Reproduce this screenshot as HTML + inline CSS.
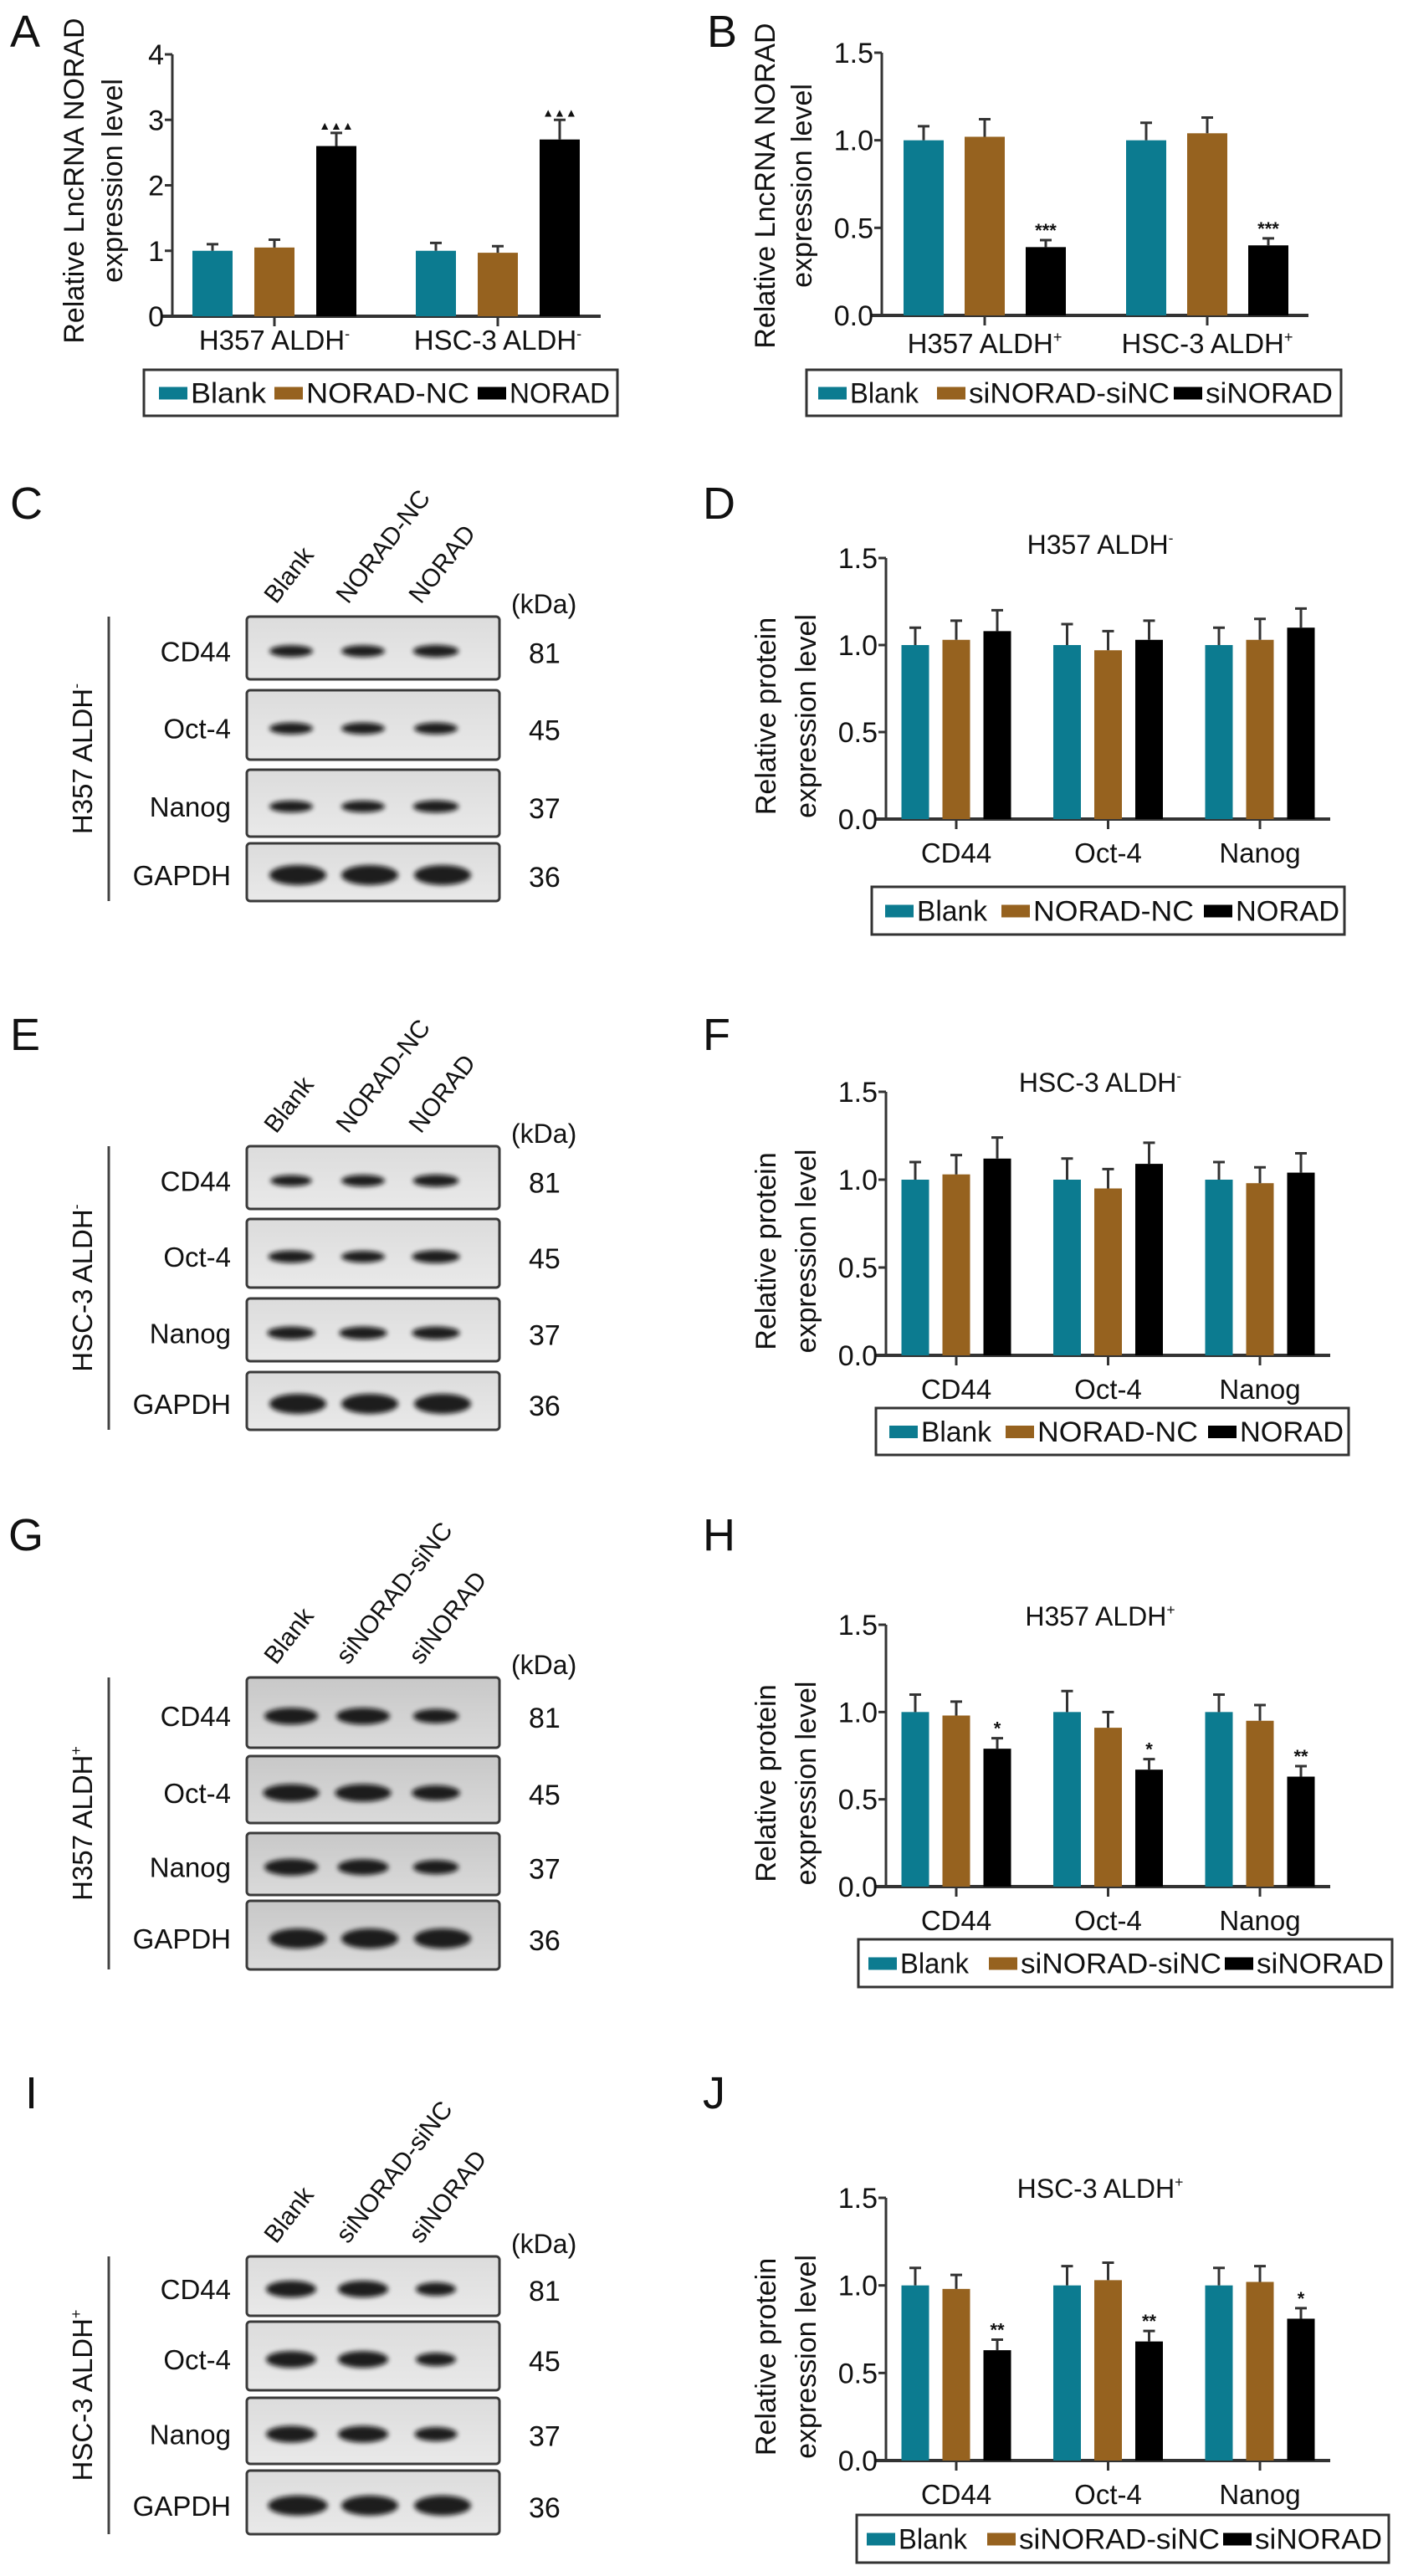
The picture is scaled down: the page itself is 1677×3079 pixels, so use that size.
<!DOCTYPE html>
<html><head><meta charset="utf-8"><title>NORAD figure</title>
<style>
html,body{margin:0;padding:0;background:#fff;}
svg{display:block;font-family:"Liberation Sans",Arial,sans-serif;}
</style></head>
<body>
<svg id="fig" width="1677" height="3079" viewBox="0 0 1677 3079" xmlns="http://www.w3.org/2000/svg">
<defs>
<filter id="blur" x="-30%" y="-80%" width="160%" height="260%"><feGaussianBlur stdDeviation="3"/></filter>
<linearGradient id="blotbg" x1="0" y1="0" x2="0" y2="1"><stop offset="0" stop-color="#dcdcdc"/><stop offset="1" stop-color="#e9e9e9"/></linearGradient>
<linearGradient id="blotbg2" x1="0" y1="0" x2="0" y2="1"><stop offset="0" stop-color="#c8c8c8"/><stop offset="1" stop-color="#dadada"/></linearGradient>
</defs>
</svg>
<script>
// ---------- data ----------
const catsA = ['H357 ALDH', 'HSC-3 ALDH'];
const ticksA = [0, 1, 2, 3, 4];
const aBlank = [1.0, 1.0];
const aNC = [1.05, 0.97];
const aNORAD = [2.6, 2.7];
const aBlankErr = [0.1, 0.12];
const aNCErr = [0.12, 0.1];
const aNORADErr = [0.2, 0.3];
const aSig = ['▲▲▲', '▲▲▲'];

const catsB = ['H357 ALDH', 'HSC-3 ALDH'];
const ticksB = [0, 0.5, 1.0, 1.5];
const bBlank = [1.0, 1.0];
const bNC = [1.02, 1.04];
const bSi = [0.39, 0.40];
const bBlankErr = [0.08, 0.1];
const bNCErr = [0.1, 0.09];
const bSiErr = [0.04, 0.04];
const bSig = ['***', '***'];

const protCats = ['CD44', 'Oct-4', 'Nanog'];
const ticksP = [0, 0.5, 1.0, 1.5];

const dBlank = [1.0, 1.0, 1.0];
const dNC = [1.03, 0.97, 1.03];
const dTr = [1.08, 1.03, 1.10];
const dBlankErr = [0.1, 0.12, 0.1];
const dNCErr = [0.11, 0.11, 0.12];
const dTrErr = [0.12, 0.11, 0.11];

const fBlank = [1.0, 1.0, 1.0];
const fNC = [1.03, 0.95, 0.98];
const fTr = [1.12, 1.09, 1.04];
const fBlankErr = [0.1, 0.12, 0.1];
const fNCErr = [0.11, 0.11, 0.09];
const fTrErr = [0.12, 0.12, 0.11];

const hBlank = [1.0, 1.0, 1.0];
const hNC = [0.98, 0.91, 0.95];
const hTr = [0.79, 0.67, 0.63];
const hBlankErr = [0.1, 0.12, 0.1];
const hNCErr = [0.08, 0.09, 0.09];
const hTrErr = [0.06, 0.06, 0.06];
const hSig = ['*', '*', '**'];

const jBlank = [1.0, 1.0, 1.0];
const jNC = [0.98, 1.03, 1.02];
const jTr = [0.63, 0.68, 0.81];
const jBlankErr = [0.1, 0.11, 0.1];
const jNCErr = [0.08, 0.1, 0.09];
const jTrErr = [0.06, 0.06, 0.06];
const jSig = ['**', '**', '*'];

const legendOver = ['Blank', 'NORAD-NC', 'NORAD'];
const legendKnock = ['Blank', 'siNORAD-siNC', 'siNORAD'];
const lanesOver = ['Blank', 'NORAD-NC', 'NORAD'];
const lanesKnock = ['Blank', 'siNORAD-siNC', 'siNORAD'];
const blotRows = ['CD44', 'Oct-4', 'Nanog', 'GAPDH'];
const blotKDa = ['81', '45', '37', '36'];

// ---------- helpers ----------
const NS = 'http://www.w3.org/2000/svg';
const svg = document.getElementById('fig');
const COLORS = ['#0c7b90', '#96621f', '#000000'];
function mk(tag, attrs, parent) {
  const e = document.createElementNS(NS, tag);
  for (const k in attrs) e.setAttribute(k, attrs[k]);
  (parent || svg).appendChild(e);
  return e;
}
function txt(x, y, s, size, anchor, parent) {
  const t = mk('text', {x: x, y: y, 'font-size': size, 'text-anchor': anchor || 'start', fill: '#111'}, parent);
  t.textContent = s;
  return t;
}
function supLabel(x, y, base, sign, size, anchor, parent) {
  const t = mk('text', {x: x, y: y, 'font-size': size, 'text-anchor': anchor || 'middle', fill: '#111'}, parent);
  const a = mk('tspan', {}, t); a.textContent = base;
  const b = mk('tspan', {dy: -size * 0.4, 'font-size': size * 0.55}, t); b.textContent = sign;
  return t;
}

function panelLabel(x, y, s) {
  const t = txt(x, y, s, 54, 'start');
  
  
}

function drawChart(g, name) {
  const grp = mk('g', {});
  
  
  const yScale = v => g.y0 - (v / g.yMax) * (g.y0 - g.yTop);
  const xCenter = i => g.c0 + i * g.step;
  // axes
  const ya = mk('line', {x1: g.ax, y1: g.yTop, x2: g.ax, y2: g.y0, stroke: '#333', 'stroke-width': 3}, grp);
  
  
  const xa = mk('line', {x1: g.ax - 12, y1: g.y0, x2: g.xEnd, y2: g.y0, stroke: '#333', 'stroke-width': 4}, grp);
  
  
  g.ticks.forEach(v => {
    const y = yScale(v);
    mk('line', {x1: g.ax - 9, y1: y, x2: g.ax, y2: y, stroke: '#333', 'stroke-width': 3}, grp);
    const t = txt(g.ax - 10, y + 12, g.fmt(v), 34, 'end', grp);
    
    
  });
  // y title
  const tt = mk('text', {transform: 'translate(' + g.tx1 + ',' + g.tMid + ') rotate(-90)', 'font-size': 34, 'text-anchor': 'middle', fill: '#111'}, grp);
  tt.textContent = g.title1;
  
  
  const tt2 = mk('text', {transform: 'translate(' + g.tx2 + ',' + g.tMid + ') rotate(-90)', 'font-size': 34, 'text-anchor': 'middle', fill: '#111'}, grp);
  tt2.textContent = g.title2;
  
  
  // categories
  g.cats.forEach((c, i) => {
    const cx = xCenter(i);
    mk('line', {x1: cx, y1: g.y0, x2: cx, y2: g.y0 + 12, stroke: '#333', 'stroke-width': 3}, grp);
    let t;
    if (g.sign) t = supLabel(cx, g.catY, c, g.sign, 33, 'middle', grp);
    else t = txt(cx, g.catY, c, 33, 'middle', grp);
    
    
  });
  // bars
  g.series.forEach((vals, s) => {
    vals.forEach((v, i) => {
      const cx = xCenter(i) + (s - 1) * g.barStep;
      const top = yScale(v);
      const errTop = yScale(v + g.errs[s][i]);
      const r = mk('rect', {x: cx - g.barW / 2, y: top, width: g.barW, height: g.y0 - top, fill: COLORS[s]}, grp);
      
      
      const e = mk('path', {d: 'M' + cx + ' ' + top + 'V' + errTop + 'M' + (cx - 7) + ' ' + errTop + 'H' + (cx + 7), stroke: '#333', 'stroke-width': 3, fill: 'none'}, grp);
      
      
      if (s === 2 && g.sig) {
        const st = txt(cx, errTop - 4, g.sig[i], g.sigSize, 'middle', grp);
        st.setAttribute('font-weight', 'bold');
        
        
      }
    });
  });
  // chart title
  if (g.head) {
    const ht = supLabel(g.headX, g.headY, g.head, g.headSign, 32, 'middle', grp);
    
    
  }
  // legend
  const L = g.leg;
  const lb = mk('rect', {x: L.x1, y: L.y1, width: L.x2 - L.x1, height: L.y2 - L.y1, fill: '#fff', stroke: '#333', 'stroke-width': 3}, grp);
  
  
  const my = (L.y1 + L.y2) / 2;
  g.legend.forEach((s, k) => {
    const sw = mk('rect', {x: L.sw[k], y: my - 7, width: 34, height: 15, fill: COLORS[k]}, grp);
    
    
    const lt = txt(L.sw[k] + 38, my + 12, s, 34, 'start', grp);
    lt.setAttribute('textLength', L.tl[k]);
    lt.setAttribute('lengthAdjust', 'spacingAndGlyphs');
    
    
  });
}

function drawBlot(b, name) {
  const grp = mk('g', {});
  
  
  const top = b.rows[0][0], bot = b.rows[3][1];
  const vl = mk('line', {x1: 130, y1: top, x2: 130, y2: bot, stroke: '#444', 'stroke-width': 3}, grp);
  
  
  const sl = mk('text', {transform: 'translate(110,' + ((top + bot) / 2) + ') rotate(-90)', 'font-size': 33, 'text-anchor': 'middle', fill: '#111'}, grp);
  const s1 = mk('tspan', {}, sl); s1.textContent = b.side;
  const s2 = mk('tspan', {dy: -13, 'font-size': 18}, sl); s2.textContent = b.sign;
  
  
  const kd = txt(611, top - 4, '(kDa)', 32, 'start', grp);
  
  
  const laneX = [348, 434, 521];
  b.lanes.forEach((l, i) => {
    const lx = laneX[i] - 18, ly = top - 14;
    const t = mk('text', {transform: 'translate(' + lx + ',' + ly + ') rotate(-52)', 'font-size': 30, fill: '#111'}, grp);
    t.textContent = l;
    
    
  });
  b.rows.forEach((r, k) => {
    const bx = mk('rect', {x: 295, y: r[0], width: 302, height: r[1] - r[0], rx: 4, fill: b.bg, stroke: '#3a3a3a', 'stroke-width': 3}, grp);
    
    
    const cy = r[0] + (r[1] - r[0]) * 0.55;
    const rl = txt(276, cy + 12, blotRows[k], 33, 'end', grp);
    
    
    const kl = txt(632, cy + 14, blotKDa[k], 34, 'start', grp);
    
    
    const isG = k === 3;
    laneX.forEach((lx, i) => {
      const w = (isG ? 34 : b.bw) * (b.int[k][i]);
      const h = isG ? 12 : b.bh * b.int[k][i];
      const e = mk('ellipse', {cx: lx + (isG ? 8 : 0), cy: cy, rx: w, ry: h, fill: '#0a0a0a', filter: 'url(#blur)', opacity: 0.92}, grp);
      
      
    });
  });
}

// ---------- panel labels ----------
panelLabel(12, 56, 'A');
panelLabel(845, 56, 'B');
panelLabel(12, 620, 'C');
panelLabel(840, 620, 'D');
panelLabel(12, 1255, 'E');
panelLabel(840, 1255, 'F');
panelLabel(10, 1853, 'G');
panelLabel(840, 1853, 'H');
panelLabel(30, 2520, 'I');
panelLabel(840, 2520, 'J');

// ---------- charts ----------
const fmt1 = v => v.toFixed(1);
drawChart({ax: 206, xEnd: 718, y0: 378, yTop: 65, yMax: 4, ticks: ticksA, fmt: v => String(v),
  c0: 328, step: 267, barStep: 74, barW: 48, cats: catsA, sign: '-', catY: 418,
  series: [aBlank, aNC, aNORAD], errs: [aBlankErr, aNCErr, aNORADErr], sig: aSig, sigSize: 14,
  tx1: 100, tx2: 146, tMid: 216, title1: 'Relative LncRNA NORAD', title2: 'expression level',
  legend: legendOver, leg: {x1: 172, y1: 442, x2: 738, y2: 497, sw: [190, 328, 571], tl: [90, 195, 120]}}, 'panel-a');

drawChart({ax: 1054, xEnd: 1564, y0: 377, yTop: 63, yMax: 1.5, ticks: ticksB, fmt: fmt1,
  c0: 1177, step: 266, barStep: 73, barW: 48, cats: catsB, sign: '+', catY: 422,
  series: [bBlank, bNC, bSi], errs: [bBlankErr, bNCErr, bSiErr], sig: bSig, sigSize: 22,
  tx1: 926, tx2: 970, tMid: 222, title1: 'Relative LncRNA NORAD', title2: 'expression level',
  legend: legendKnock, leg: {x1: 964, y1: 442, x2: 1603, y2: 497, sw: [978, 1120, 1403], tl: [82, 240, 152]}}, 'panel-b');

function protChart(y0, yTop, titleY, sign, head, series, errs, sig, legend, leg, name) {
  drawChart({ax: 1059, xEnd: 1590, y0: y0, yTop: yTop, yMax: 1.5, ticks: ticksP, fmt: fmt1,
    c0: 1143, step: 181.5, barStep: 49, barW: 33, cats: protCats, sign: null, catY: y0 + 52,
    series: series, errs: errs, sig: sig, sigSize: 22,
    tx1: 927, tx2: 975, tMid: (y0 + yTop) / 2 + 33, title1: 'Relative protein', title2: 'expression level',
    head: head, headSign: sign, headX: 1315, headY: titleY,
    legend: legend, leg: leg}, name);
}
protChart(979, 667, 662, '-', 'H357 ALDH', [dBlank, dNC, dTr], [dBlankErr, dNCErr, dTrErr], null, legendOver,
  {x1: 1042, y1: 1060, x2: 1607, y2: 1117, sw: [1058, 1197, 1439], tl: [84, 192, 124]}, 'panel-d');
protChart(1620, 1305, 1305, '-', 'HSC-3 ALDH', [fBlank, fNC, fTr], [fBlankErr, fNCErr, fTrErr], null, legendOver,
  {x1: 1047, y1: 1683, x2: 1612, y2: 1739, sw: [1063, 1202, 1444], tl: [84, 192, 124]}, 'panel-f');
protChart(2255, 1942, 1943, '+', 'H357 ALDH', [hBlank, hNC, hTr], [hBlankErr, hNCErr, hTrErr], hSig, legendKnock,
  {x1: 1026, y1: 2318, x2: 1664, y2: 2375, sw: [1038, 1182, 1464], tl: [82, 240, 152]}, 'panel-h');
protChart(2941, 2627, 2627, '+', 'HSC-3 ALDH', [jBlank, jNC, jTr], [jBlankErr, jNCErr, jTrErr], jSig, legendKnock,
  {x1: 1024, y1: 3006, x2: 1660, y2: 3063, sw: [1036, 1180, 1462], tl: [82, 240, 152]}, 'panel-j');

// ---------- western blots ----------
drawBlot({rows: [[737, 812], [825, 908], [920, 1000], [1008, 1077]], side: 'H357 ALDH', sign: '-', lanes: lanesOver,
  bg: 'url(#blotbg)', bw: 26, bh: 7, int: [[1, 1, 1.05], [1, 1, 1], [1, 1, 1.05], [1, 1, 1]]}, 'panel-c');
drawBlot({rows: [[1370, 1445], [1457, 1539], [1552, 1627], [1640, 1709]], side: 'HSC-3 ALDH', sign: '-', lanes: lanesOver,
  bg: 'url(#blotbg)', bw: 26, bh: 7, int: [[0.95, 1, 1.05], [1.05, 1, 1.1], [1.1, 1.1, 1.1], [1, 1, 1]]}, 'panel-e');
drawBlot({rows: [[2005, 2089], [2099, 2179], [2191, 2265], [2272, 2354]], side: 'H357 ALDH', sign: '+', lanes: lanesKnock,
  bg: 'url(#blotbg2)', bw: 32, bh: 10, int: [[1, 1, 0.85], [1.05, 1.05, 0.9], [1, 0.95, 0.85], [1, 1, 1]]}, 'panel-g');
drawBlot({rows: [[2697, 2768], [2775, 2857], [2866, 2945], [2953, 3029]], side: 'HSC-3 ALDH', sign: '+', lanes: lanesKnock,
  bg: 'url(#blotbg)', bw: 30, bh: 10, int: [[1, 1, 0.8], [1, 1, 0.8], [1, 1, 0.85], [1.05, 1, 1]]}, 'panel-i');
</script>
</body></html>
